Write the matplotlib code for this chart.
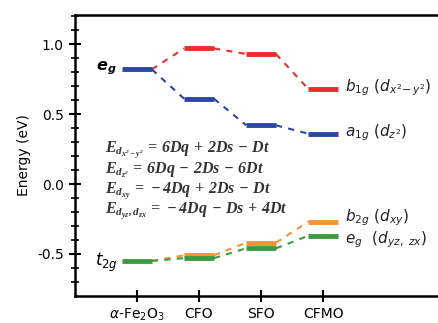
import matplotlib
matplotlib.use("Agg")
import matplotlib.pyplot as plt

plt.rcParams["mathtext.rm"] = "Liberation Serif:style=italic:weight=bold"
plt.rcParams["mathtext.it"] = "Liberation Serif:style=italic:weight=bold"
plt.rcParams["mathtext.bf"] = "Liberation Serif:style=italic:weight=bold"

samples = [r"$\alpha$-Fe$_2$O$_3$", "CFO", "SFO", "CFMO"]
b1g = [0.82, 0.97, 0.93, 0.68]    # d_x2-y2
a1g = [0.82, 0.61, 0.42, 0.36]    # d_z2
b2g = [-0.55, -0.51, -0.42, -0.27]  # d_xy
eg2 = [-0.55, -0.53, -0.46, -0.37]  # d_yz, d_zx

RED, BLUE, ORANGE, GREEN = "#ec2d2d", "#2b47a3", "#f39237", "#3d9a41"
HW = 0.24  # half width of a level bar

fig = plt.figure(figsize=(4.38, 3.23), dpi=100)
ax = fig.add_axes([0.171, 0.084, 0.829, 0.870])

def levels(vals, color, skip_first_bar=False, z=3):
    for i, v in enumerate(vals):
        if i == 0 and skip_first_bar:
            continue
        ax.plot([i - HW, i + HW], [v, v], color=color, lw=3.5, solid_capstyle="butt", zorder=z)
    for i in range(len(vals) - 1):
        ax.plot([i + HW, i + 1 - HW], [vals[i], vals[i + 1]], color=color, lw=1.5,
                ls=(0, (3, 3)), zorder=z - 1)

levels(b1g, RED, skip_first_bar=True)
levels(a1g, BLUE)
levels(b2g, ORANGE, skip_first_bar=True)
levels(eg2, GREEN, z=4)

ax.set_xlim(-1.0, 4.85)
ax.set_ylim(-0.8, 1.21)
ax.set_xticks(range(len(samples)))
ax.set_xticklabels(samples, fontsize=10)
ax.set_yticks([-0.5, 0.0, 0.5, 1.0])
ax.set_yticklabels(["-0.5", "0.0", "0.5", "1.0"], fontsize=10)
ax.set_yticks([i / 10 for i in range(-7, 13)], minor=True)
ax.tick_params(axis="both", which="major", direction="inout", length=9, width=1.5)
ax.tick_params(axis="y", which="minor", direction="inout", length=6, width=1.2)
ax.spines["right"].set_visible(False)
for s in ("left", "bottom", "top"):
    ax.spines[s].set_linewidth(1.8)
ax.set_ylabel("Energy (eV)", fontsize=10)

# level labels
ax.text(-0.33, 0.83, r"$\boldsymbol{e}_{\boldsymbol{g}}$", fontsize=11.5, ha="right", va="center")
ax.text(-0.3, -0.56, r"$t_{2g}$", fontsize=12, ha="right", va="center", fontweight="bold")
ax.text(3.35, 0.69, r"$b_{1g}\ (d_{x^2\!-y^2})$", fontsize=11, va="center", color="#222")
ax.text(3.35, 0.37, r"$a_{1g}\ (d_{z^2})$", fontsize=11, va="center", color="#222")
ax.text(3.35, -0.24, r"$b_{2g}\ (d_{xy})$", fontsize=11, va="center", color="#222")
ax.text(3.35, -0.40, r"$e_{g}\ \ (d_{yz,\ zx})$", fontsize=11, va="center", color="#222")

eqs = [r"$E_{d_{x^2-y^2}}\,=\,6Dq\,+\,2Ds\,-\,Dt$",
       r"$E_{d_{z^2}}\,=\,6Dq\,-\,2Ds\,-\,6Dt$",
       r"$E_{d_{xy}}\,=\,-4Dq\,+\,2Ds\,-\,Dt$",
       r"$E_{d_{yz},d_{zx}}\,=\,-4Dq\,-\,Ds\,+\,4Dt$"]
for k, e in enumerate(eqs):
    ax.text(-0.52, 0.24 - k * 0.145, e, fontsize=11.5, va="center", color="#333",
            math_fontfamily="custom")

fig.savefig("out.png", dpi=100)
